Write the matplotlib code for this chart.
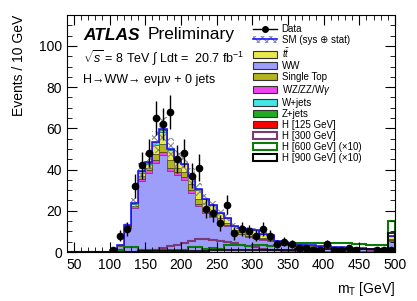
import matplotlib
matplotlib.use("Agg")
import matplotlib.pyplot as plt
from matplotlib.patches import Patch
from matplotlib.lines import Line2D
from matplotlib.ticker import MultipleLocator
import numpy as np

plt.rcParams['font.family'] = ['Liberation Sans', 'DejaVu Sans']
plt.rcParams['mathtext.fontset'] = 'custom'
plt.rcParams['mathtext.rm'] = 'Liberation Sans'
plt.rcParams['mathtext.it'] = 'Liberation Sans:italic'
plt.rcParams['hatch.linewidth'] = 0.8

# 10 GeV bins, 40 -> 500 GeV (last bin holds overflow)
edges = np.arange(40, 510, 10)

data = [0, 0, 0, 0, 0, 0,
        1, 8, 11, 32, 42, 48, 65, 62, 68, 45,
        48, 37, 41, 21, 19, 14, 23, 9, 11, 10,
        8, 11, 8, 4, 5, 4, 2, 2, 1, 1,
        4, 1, 1, 2, 1, 0, 0, 1, 1, 1]

ww = [0, 0, 0, 0, 0, 0,
      0.7, 3.0, 11.5, 21.5, 34.5, 38.5, 43.0, 47.0, 39.5, 37.5,
      35.0, 28.5, 22.5, 19.0, 17.0, 14.5, 12.5, 9.5, 8.5, 7.5,
      7.0, 6.0, 5.5, 4.0, 3.8, 3.4, 2.9, 2.7, 2.5, 2.3,
      2.2, 2.0, 1.8, 1.6, 1.5, 1.3, 1.2, 1.0, 0.9, 5.5]
wz = [0, 0, 0, 0, 0, 0,
      0.05, 0.1, 0.3, 0.6, 1.0, 1.2, 1.5, 1.6, 1.4, 1.3,
      1.2, 1.5, 0.8, 0.7, 0.6, 0.5, 0.4, 0.4, 0.3, 0.3,
      0.3, 0.2, 0.2, 0.2, 0.15, 0.15, 0.1, 0.1, 0.1, 0.1,
      0.1, 0.1, 0.1, 0.05, 0.05, 0.05, 0.05, 0.05, 0.05, 0.4]
single_top = [0, 0, 0, 0, 0, 0,
              0, 0.05, 0.2, 0.4, 1.2, 1.0, 3.0, 4.0, 3.5, 2.2,
              2.5, 2.8, 2.4, 1.8, 1.6, 1.3, 1.1, 0.9, 0.9, 0.8,
              0.8, 0.6, 0.6, 0.3, 0.3, 0.3, 0.2, 0.2, 0.15, 0.15,
              0.15, 0.1, 0.1, 0.1, 0.1, 0.1, 0.05, 0.05, 0.05, 0.5]
ttbar = [0, 0, 0, 0, 0, 0,
         0, 0.1, 0.4, 0.8, 1.8, 2.2, 4.5, 5.8, 5.0, 3.5,
         3.8, 3.8, 4.5, 4.0, 3.4, 2.7, 2.6, 1.8, 2.1, 2.4,
         2.4, 1.8, 1.7, 0.9, 0.75, 0.7, 0.6, 0.5, 0.45, 0.45,
         0.4, 0.3, 0.3, 0.3, 0.2, 0.2, 0.15, 0.15, 0.15, 1.2]
wjets = [0, 0, 0, 0, 0, 0,
         0.05, 0.1, 0.2, 0.3, 0.6, 0.5, 1.2, 1.0, 0.6, 0.4,
         0.3, 0.2, 0.2, 0.1, 0.1, 0.1, 0.1, 0.05, 0.05, 0.05,
         0.05, 0.05, 0.05, 0.05, 0.05, 0.05, 0.05, 0.05, 0.05, 0.05,
         0.05, 0.05, 0.05, 0.05, 0.05, 0.05, 0.05, 0.05, 0.05, 0.1]
zjets = [0, 0, 0, 0, 0, 0,
         0.05, 0.05, 0.1, 0.1, 0.2, 0.1, 0.2, 0.2, 0.2, 0.1,
         0.1, 0.1, 0, 0, 0, 0, 0, 0, 0, 0,
         0, 0, 0, 0, 0, 0, 0, 0, 0, 0,
         0, 0, 0, 0, 0, 0, 0, 0, 0, 0]
h125 = [0, 0, 0, 0, 0, 0,
        0.1, 0.2, 0.2, 0.1, 0.1, 0.05, 0.05, 0, 0, 0,
        0, 0, 0, 0, 0, 0, 0, 0, 0, 0,
        0, 0, 0, 0, 0, 0, 0, 0, 0, 0,
        0, 0, 0, 0, 0, 0, 0, 0, 0, 0]

h300 = [0, 0, 0, 0, 0, 0,
        0, 0, 0.1, 0.2, 0.3, 0.5, 1.2, 2.0, 2.8, 3.5,
        4.3, 5.2, 6.3, 6.5, 6.0, 5.5, 5.0, 4.2, 3.6, 3.0,
        2.3, 1.6, 1.2, 0.9, 0.7, 0.5, 0.4, 0.3, 0.3, 0.2,
        0.2, 0.1, 0.1, 0.1, 0.1, 0.1, 0.1, 0.1, 0.1, 0.3]
h600_x10 = [0, 0, 0, 0, 0, 0,
            0.3, 0.8, 2.5, 2.5, 1.0, 0.8, 1.0, 1.0, 1.2, 1.0,
            1.2, 2.5, 2.5, 1.5, 1.8, 1.5, 3.2, 3.5, 3.5, 3.0,
            3.2, 3.4, 3.0, 3.4, 3.6, 4.0, 4.2, 4.5, 4.5, 4.6,
            4.6, 4.4, 4.6, 4.2, 4.0, 3.8, 3.6, 3.4, 3.4, 15.0]
h900_x10 = [0, 0, 0, 0, 0, 0,
            0.1, 0.1, 0.2, 0.2, 0.3, 0.3, 0.4, 0.4, 0.5, 0.5,
            0.6, 0.6, 0.7, 0.7, 0.8, 0.8, 0.9, 0.9, 1.0, 1.0,
            1.0, 1.1, 1.1, 1.2, 1.2, 1.2, 1.3, 1.3, 1.3, 1.4,
            1.4, 1.4, 1.4, 1.5, 1.5, 1.5, 1.5, 1.5, 1.5, 9.0]

stack = [
    ("WW", ww, "#9d9dfa", "#5a5ab0"),
    ("WZ/ZZ/W$\\gamma$", wz, "#ee44ee", "#993399"),
    ("Single Top", single_top, "#b4b41e", "#555500"),
    ("$t\\bar{t}$", ttbar, "#eaea4a", "#666622"),
    ("W+jets", wjets, "#44e6e6", "#228888"),
    ("Z+jets", zjets, "#22aa22", "#116611"),
    ("H [125 GeV]", h125, "#ff0000", "#aa0000"),
]

fig = plt.figure(figsize=(4.17, 3.01), dpi=100)
ax = fig.add_axes([66.7 / 417, 49 / 301, (395 - 66.7) / 417, (252 - 15) / 301])

bottom = np.zeros(len(edges) - 1)
for name, vals, fc, ec in stack:
    top = bottom + np.array(vals)
    ax.stairs(top, edges, baseline=bottom, fill=True, color=fc, lw=0)
    ax.stairs(top, edges, baseline=bottom, color=ec, lw=0.6)
    bottom = top
total = bottom

# SM uncertainty band and outline
ax.fill_between(edges, np.append(total * 0.9, total[-1] * 0.9),
                np.append(total * 1.1, total[-1] * 1.1), step='post',
                facecolor='none', edgecolor='#888888', hatch='xxxx', lw=0)
ax.stairs(total, edges, color='#1a1aff', lw=1.2)

# signal overlays
ax.stairs(h300, edges, color='#7a3a7a', lw=1.5)
ax.stairs(h600_x10, edges, color='#0a7a0a', lw=1.5)
ax.stairs(h900_x10, edges, color='black', lw=1.2)

# data
centers = 0.5 * (edges[:-1] + edges[1:])
d = np.array(data, dtype=float)
m = d > 0
ax.errorbar(centers[m], d[m], yerr=np.sqrt(d[m]), fmt='o', color='black',
            ms=4.5, elinewidth=1.0, capsize=0, zorder=10)

ax.set_xlim(40, 500)
ax.set_ylim(0, 115)
ax.xaxis.set_major_locator(MultipleLocator(50))
ax.xaxis.set_minor_locator(MultipleLocator(10))
ax.yaxis.set_major_locator(MultipleLocator(20))
ax.yaxis.set_minor_locator(MultipleLocator(5))
ax.tick_params(which='both', direction='in', top=True, right=True, labelsize=10)
ax.tick_params(which='major', length=7)
ax.tick_params(which='minor', length=3.5)
ax.tick_params(axis='x', pad=4)

ax.set_ylabel("Events / 10 GeV", fontsize=10, loc='top')
ax.yaxis.set_label_coords(-0.125, 1.0)
ax.set_xlabel("m$_{\\mathrm{T}}$ [GeV]", fontsize=10, loc='right')
ax.xaxis.set_label_coords(1.0, -0.12)

fig.text(83 / 417, 1 - 35 / 301, "ATLAS", fontsize=12.5, weight='bold',
         style='italic', va='center')
fig.text(148 / 417, 1 - 35 / 301, "Preliminary", fontsize=12.5, va='center')
fig.text(83 / 417, 1 - 58 / 301,
         "$\\sqrt{s}$ = 8 TeV $\\int$ Ldt =  20.7 fb$^{-1}$",
         fontsize=9, va='center')
fig.text(83 / 417, 1 - 80 / 301, "H\u2192WW\u2192 e\u03bd\u03bc\u03bd + 0 jets",
         fontsize=9, va='center')

# legend
handles = [
    Line2D([], [], color='black', marker='o', ms=4, lw=1),
    (Patch(facecolor='white', edgecolor='#8888bb', hatch='xxxx', lw=0),
     Line2D([], [], color='#1a1aff', lw=1.2)),
]
labels = ["Data", "SM (sys \u2295 stat)"]
for name, vals, fc, ec in [stack[3], stack[0], stack[2], stack[1],
                           stack[4], stack[5], stack[6]]:
    handles.append(Patch(facecolor=fc, edgecolor='#333333', lw=0.8))
    labels.append(name)
handles += [Patch(facecolor='white', edgecolor='#7a3a7a', lw=1.5),
            Patch(facecolor='white', edgecolor='#0a7a0a', lw=1.5),
            Patch(facecolor='white', edgecolor='black', lw=1.5)]
labels += ["H [300 GeV]", "H [600 GeV] (\u00d710)", "H [900 GeV] (\u00d710)"]

ax.legend(handles, labels, loc='upper left', bbox_to_anchor=(253 / 417, 1 - 24 / 301),
          bbox_transform=fig.transFigure, frameon=False, fontsize=7,
          handlelength=2.5, handleheight=0.75, labelspacing=0.1,
          handletextpad=0.45, borderpad=0, borderaxespad=0)

fig.savefig("out.png", dpi=100)
